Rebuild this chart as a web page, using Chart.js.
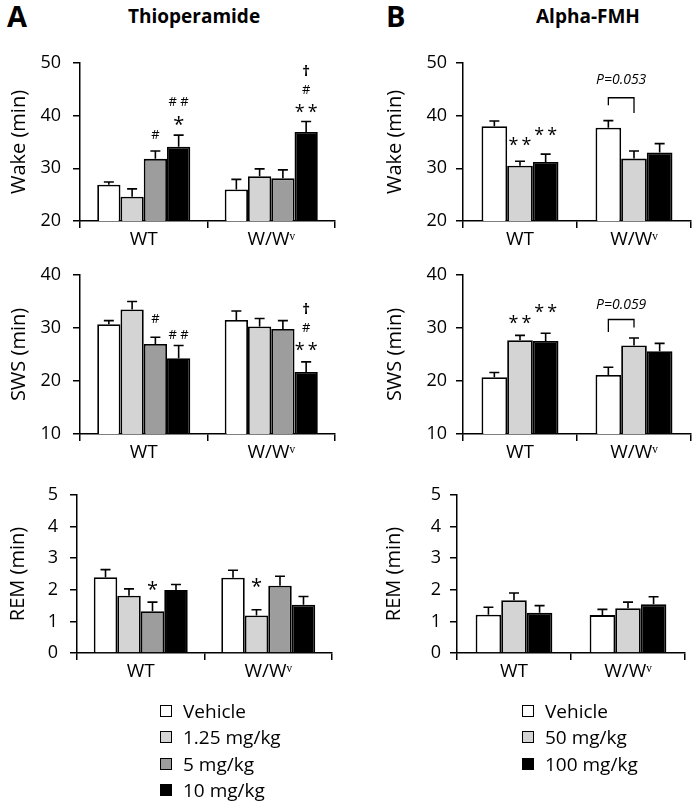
<!DOCTYPE html>
<html>
<head>
<meta charset="utf-8">
<script src="https://cdn.jsdelivr.net/npm/chart.js@4.4.1/dist/chart.umd.min.js"></script>
<style>
  body { margin: 0; background: #fff; font-family: "Open Sans", sans-serif; color: #000; }
  #page { position: relative; width: 700px; height: 808px; overflow: hidden; }
  canvas { position: absolute; }
  .lbl { position: absolute; font-weight: bold; white-space: nowrap; }
  .legend { position: absolute; font-size: 19px; line-height: 26.3px; }
  .legend div { display: flex; align-items: center; height: 26.3px; }
  .legend span.sq { display: inline-block; width: 10px; height: 10px; border: 1.5px solid #000; margin-right: 11px; }
</style>
</head>
<body>
<div id="page">
  <div class="lbl" style="left:7px;top:-4px;font-size:29px;">A</div>
  <div class="lbl" style="left:128px;top:3px;font-size:19px;">Thioperamide</div>
  <div class="lbl" style="left:386px;top:-4px;font-size:29px;">B</div>
  <div class="lbl" style="left:536px;top:3px;font-size:19px;">Alpha-FMH</div>

  <canvas id="aWake"></canvas>
  <canvas id="aSws"></canvas>
  <canvas id="aRem"></canvas>
  <canvas id="bWake"></canvas>
  <canvas id="bSws"></canvas>
  <canvas id="bRem"></canvas>

  <div class="legend" id="legA" style="left:160px;top:698px;"></div>
  <div class="legend" id="legB" style="left:522px;top:698px;"></div>
</div>

<script>
// ---------- data ----------
const groups = ["WT", "W/Wᵛ"];
const thioDoses = ["Vehicle", "1.25 mg/kg", "5 mg/kg", "10 mg/kg"];
const fmhDoses = ["Vehicle", "50 mg/kg", "100 mg/kg"];

// each row = one dose, values = [WT, W/Wv]
const thioWakeMean = [[26.9, 26.0], [24.6, 28.5], [31.8, 28.1], [34.1, 36.9]];
const thioWakeSem  = [[0.5, 1.9],   [1.5, 1.4],   [1.5, 1.6],   [2.2, 2.0]];
const thioSwsMean  = [[30.7, 31.5], [33.5, 30.3], [27.0, 29.8], [24.3, 21.7]];
const thioSwsSem   = [[0.7, 1.7],   [1.5, 1.5],   [1.25, 1.6],  [2.4, 1.9]];
const thioRemMean  = [[2.40, 2.38], [1.81, 1.19], [1.32, 2.13], [1.99, 1.53]];
const thioRemSem   = [[0.24, 0.24], [0.22, 0.18], [0.29, 0.30], [0.18, 0.26]];

const fmhWakeMean = [[38.0, 37.7], [30.5, 31.85], [31.2, 33.0]];
const fmhWakeSem  = [[1.0, 1.35],  [0.85, 1.45],  [1.5, 1.7]];
const fmhSwsMean  = [[20.7, 21.15], [27.7, 26.7], [27.55, 25.6]];
const fmhSwsSem   = [[0.9, 1.45],   [0.9, 1.4],   [1.45, 1.5]];
const fmhRemMean  = [[1.21, 1.20], [1.67, 1.42], [1.27, 1.54]];
const fmhRemSem   = [[0.24, 0.18], [0.23, 0.19], [0.23, 0.24]];

// significance marks: [dose index, group index, lines from bottom to top, gap above error bar]
const thioWakeMarks = [[2, 0, ["#"], 16], [3, 0, ["*", "# #"], 15], [3, 1, ["**", "#", "†"], 13]];
const thioSwsMarks  = [[2, 0, ["#"], 19], [3, 0, ["# #"], 11], [3, 1, ["**", "#", "†"], 15]];
const thioRemMarks  = [[2, 0, ["*"], 17], [1, 1, ["*"], 27]];
const fmhWakeMarks  = [[1, 0, ["**"], 20], [2, 0, ["**"], 23]];
const fmhSwsMarks   = [[1, 0, ["**"], 16], [2, 0, ["**"], 25]];

// trend brackets: group, dose a, dose b, bar level, leg ends, label level (y units)
const fmhWakeBracket = { group: 1, a: 0, b: 1, level: 43.4, legs: [42.0, 40.5], textAt: 46.8, text: "P=0.053" };
const fmhSwsBracket  = { group: 1, a: 0, b: 1, level: 31.6, legs: [29.25, 30.1], textAt: 34.3, text: "P=0.059" };

// ---------- styles ----------
const FONT = "Open Sans";
const thioColors = ["#ffffff", "#d4d4d4", "#9d9d9d", "#000000"];
const fmhColors  = ["#ffffff", "#d4d4d4", "#000000"];

// ---------- plugins ----------
const errorBars = {
  id: "errorBars",
  afterDatasetsDraw(chart) {
    const ctx = chart.ctx, y = chart.scales.y;
    ctx.save();
    ctx.strokeStyle = "#000";
    ctx.lineWidth = 1.6;
    chart.data.datasets.forEach((ds, i) => {
      chart.getDatasetMeta(i).data.forEach((bar, j) => {
        const top = y.getPixelForValue(ds.data[j] + ds.sem[j]);
        ctx.beginPath();
        ctx.moveTo(bar.x, bar.y);
        ctx.lineTo(bar.x, top);
        ctx.moveTo(bar.x - 5, top);
        ctx.lineTo(bar.x + 5, top);
        ctx.stroke();
      });
    });
    ctx.restore();
  }
};

function markFont(t) {
  if (t.includes("#")) return "13px '" + FONT + "'";
  if (t.includes("†")) return "bold 15px '" + FONT + "'";
  if (t.length > 1) return "18px '" + FONT + "'";
  return "20px '" + FONT + "'";
}

const sigMarks = {
  id: "sigMarks",
  afterDraw(chart, args, opts) {
    if (!opts.items) return;
    const ctx = chart.ctx, y = chart.scales.y;
    ctx.save();
    ctx.fillStyle = "#000";
    ctx.textAlign = "center";
    ctx.textBaseline = "alphabetic";
    opts.items.forEach(([d, g, lines, gap]) => {
      const ds = chart.data.datasets[d];
      const bar = chart.getDatasetMeta(d).data[g];
      const top = y.getPixelForValue(ds.data[g] + ds.sem[g]);
      lines.forEach((t, k) => {
        const txt = t === "**" ? "*\u2009*" : t;
        ctx.font = markFont(t);
        const m = ctx.measureText(txt);
        const yc = top - (gap || 16) - k * 19;
        ctx.fillText(txt, bar.x, yc + (m.actualBoundingBoxAscent - m.actualBoundingBoxDescent) / 2);
      });
    });
    ctx.restore();
  }
};

const trendBracket = {
  id: "trendBracket",
  afterDraw(chart, args, opts) {
    if (!opts.text) return;
    const ctx = chart.ctx, y = chart.scales.y;
    const xa = chart.getDatasetMeta(opts.a).data[opts.group].x;
    const xb = chart.getDatasetMeta(opts.b).data[opts.group].x;
    const yl = y.getPixelForValue(opts.level);
    ctx.save();
    ctx.strokeStyle = "#000";
    ctx.lineWidth = 1.3;
    ctx.beginPath();
    ctx.moveTo(xa, y.getPixelForValue(opts.legs[0]));
    ctx.lineTo(xa, yl);
    ctx.lineTo(xb, yl);
    ctx.lineTo(xb, y.getPixelForValue(opts.legs[1]));
    ctx.stroke();
    ctx.fillStyle = "#000";
    ctx.font = "italic 14px '" + FONT + "'";
    ctx.textAlign = "center";
    ctx.textBaseline = "middle";
    ctx.fillText(opts.text, (xa + xb) / 2, y.getPixelForValue(opts.textAt));
    ctx.restore();
  }
};

// ---------- panel builder ----------
function panel(id, box, doses, colors, means, sems, yRange, yTitle, marks, bracket) {
  const cv = document.getElementById(id);
  const top = box.T - 25, left = box.col;
  cv.width = box.R + 10 - left;
  cv.height = box.B + 50 - top;
  cv.style.left = left + "px";
  cv.style.top = top + "px";

  const axisGrid = { drawOnChartArea: false, tickLength: 7, color: "#000", lineWidth: 1.5 };
  const axisBorder = { color: "#000", width: 1.5 };

  return new Chart(cv, {
    type: "bar",
    data: {
      labels: groups,
      datasets: doses.map((d, i) => ({
        label: d,
        data: means[i].slice(),
        sem: sems[i],
        backgroundColor: colors[i],
        borderColor: "#000",
        borderWidth: 1.8,
        barPercentage: 1,
        categoryPercentage: box.cat
      }))
    },
    options: {
      responsive: false,
      animation: false,
      devicePixelRatio: 1,
      layout: { padding: { top: 25, right: 10, left: 0, bottom: 0 } },
      plugins: {
        legend: { display: false },
        tooltip: { enabled: false },
        sigMarks: { items: marks || [] },
        trendBracket: bracket || {}
      },
      scales: {
        x: {
          grid: Object.assign({ offset: true }, axisGrid),
          border: axisBorder,
          ticks: { color: "#000", font: { family: FONT, size: 19 }, padding: 0 },
          afterFit: s => { s.height = 50; }
        },
        y: {
          min: yRange[0], max: yRange[1],
          ticks: { stepSize: yRange[2], color: "#000", font: { family: FONT, size: 18 }, padding: box.tk },
          grid: axisGrid,
          border: axisBorder,
          title: { display: true, text: yTitle, color: "#000", font: { family: FONT, size: 20 }, padding: { top: box.tp, bottom: 0 } },
          afterFit: s => { s.width = box.L - box.col; }
        }
      }
    },
    plugins: [errorBars, sigMarks, trendBracket]
  });
}

// plot areas of the six panels
const boxAWake = { col: 0, L: 80, R: 335, T: 63, B: 221, cat: 0.73, tp: 7.5, tk: 12 };
const boxASws  = { col: 0, L: 80, R: 335, T: 274.5, B: 434, cat: 0.73, tp: 7.5, tk: 12 };
const boxARem  = { col: 0, L: 77, R: 332, T: 494.5, B: 652.7, cat: 0.737, tp: 6, tk: 12 };
const boxBWake = { col: 350, L: 463, R: 691, T: 63, B: 221, cat: 0.675, tp: 33, tk: 9 };
const boxBSws  = { col: 350, L: 463, R: 691, T: 274.5, B: 434, cat: 0.675, tp: 33, tk: 9 };
const boxBRem  = { col: 350, L: 457, R: 685, T: 494.5, B: 652.7, cat: 0.673, tp: 32, tk: 9 };

panel("aWake", boxAWake, thioDoses, thioColors, thioWakeMean, thioWakeSem, [20, 50, 10], "Wake (min)", thioWakeMarks);
panel("aSws",  boxASws,  thioDoses, thioColors, thioSwsMean,  thioSwsSem,  [10, 40, 10], "SWS (min)",  thioSwsMarks);
panel("aRem",  boxARem,  thioDoses, thioColors, thioRemMean,  thioRemSem,  [0, 5, 1],    "REM (min)",  thioRemMarks);
panel("bWake", boxBWake, fmhDoses, fmhColors, fmhWakeMean, fmhWakeSem, [20, 50, 10], "Wake (min)", fmhWakeMarks, fmhWakeBracket);
panel("bSws",  boxBSws,  fmhDoses, fmhColors, fmhSwsMean,  fmhSwsSem,  [10, 40, 10], "SWS (min)",  fmhSwsMarks, fmhSwsBracket);
panel("bRem",  boxBRem,  fmhDoses, fmhColors, fmhRemMean,  fmhRemSem,  [0, 5, 1],    "REM (min)");

// ---------- legends ----------
function legend(elId, doses, colors) {
  const el = document.getElementById(elId);
  doses.forEach((d, i) => {
    const row = document.createElement("div");
    const sq = document.createElement("span");
    sq.className = "sq";
    sq.style.background = colors[i];
    row.appendChild(sq);
    row.appendChild(document.createTextNode(d));
    el.appendChild(row);
  });
}
legend("legA", thioDoses, thioColors);
legend("legB", fmhDoses, fmhColors);
</script>
</body>
</html>
